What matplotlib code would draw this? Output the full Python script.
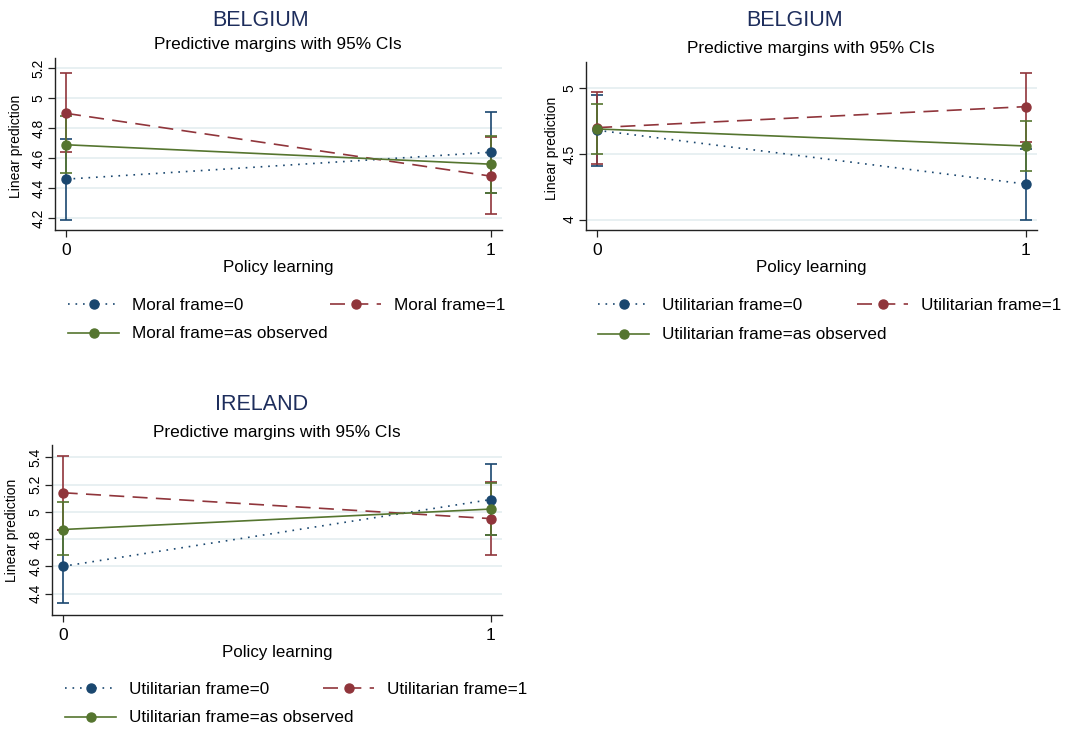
import matplotlib.pyplot as plt

plt.rcParams['font.family'] = ['Liberation Sans', 'DejaVu Sans']

x = [0, 1]

# panel 1: Belgium, moral frame
be_moral_0 = [4.46, 4.64]
be_moral_0_lo = [4.19, 4.37]
be_moral_0_hi = [4.73, 4.91]
be_moral_1 = [4.90, 4.48]
be_moral_1_lo = [4.64, 4.23]
be_moral_1_hi = [5.17, 4.74]
be_moral_obs = [4.69, 4.56]
be_moral_obs_lo = [4.50, 4.37]
be_moral_obs_hi = [4.88, 4.75]

# panel 2: Belgium, utilitarian frame
be_util_0 = [4.68, 4.27]
be_util_0_lo = [4.41, 4.00]
be_util_0_hi = [4.95, 4.54]
be_util_1 = [4.70, 4.86]
be_util_1_lo = [4.42, 4.59]
be_util_1_hi = [4.97, 5.12]
be_util_obs = [4.69, 4.56]
be_util_obs_lo = [4.50, 4.37]
be_util_obs_hi = [4.88, 4.75]

# panel 3: Ireland, utilitarian frame
ie_util_0 = [4.60, 5.09]
ie_util_0_lo = [4.33, 4.83]
ie_util_0_hi = [4.87, 5.35]
ie_util_1 = [5.14, 4.95]
ie_util_1_lo = [4.87, 4.68]
ie_util_1_hi = [5.41, 5.22]
ie_util_obs = [4.87, 5.02]
ie_util_obs_lo = [4.68, 4.83]
ie_util_obs_hi = [5.07, 5.21]

NAVY = '#1a476f'
MAROON = '#90353b'
GREEN = '#55752f'
TITLE = '#1d2d5c'
GRID = '#e4edf0'

W, H = 1080, 729
fig = plt.figure(figsize=(10.8, 7.29), dpi=100)


def fx(px):
    return px / W


def fy(py):
    return 1 - py / H


def panel(title, box, xlim, ylim, yticks, series, title_xy, sub_xy, xlab_xy, ylab_xy,
          legend_rows, legend_cols, labels):
    left, top, right, bottom = box
    ax = fig.add_axes([fx(left), fy(bottom), fx(right - left), (bottom - top) / H])
    ax.set_xlim(*xlim)
    ax.set_ylim(*ylim)
    ax.set_xticks([0, 1])
    ax.set_yticks(yticks)
    ax.set_yticklabels([('%g' % t) for t in yticks], rotation=90, va='center')
    ax.tick_params(axis='x', labelsize=12.5, length=5, width=0.9, pad=4, color='#222222')
    ax.tick_params(axis='y', labelsize=10, length=5, width=0.9, pad=2, color='#222222')
    for t in yticks:
        ax.axhline(t, color=GRID, lw=1.2, zorder=0)
    for s in ['top', 'right']:
        ax.spines[s].set_visible(False)
    for s in ['left', 'bottom']:
        ax.spines[s].set_linewidth(1.0)
        ax.spines[s].set_color('#222222')

    styles = [(NAVY, (0, (1, 3.5))), (MAROON, (0, (9, 5))), (GREEN, '-')]
    handles = []
    for (y, lo, hi), (col, ls) in zip(series, styles):
        err = [[v - l for v, l in zip(y, lo)], [h - v for v, h in zip(y, hi)]]
        ax.errorbar(x, y, yerr=err, fmt='none', ecolor=col, elinewidth=1.2,
                    capsize=4, capthick=1.2, zorder=3)
        h, = ax.plot(x, y, color=col, linestyle=ls, lw=1.2, marker='o',
                     markersize=6.5, markerfacecolor=col, markeredgecolor=col, zorder=4)
        handles.append(h)

    fig.text(fx(title_xy[0]), fy(title_xy[1]), title, ha='center', va='center',
             fontsize=15.5, color=TITLE)
    fig.text(fx(sub_xy[0]), fy(sub_xy[1]), 'Predictive margins with 95% CIs',
             ha='center', va='center', fontsize=12.4, color='black')
    fig.text(fx(xlab_xy[0]), fy(xlab_xy[1]), 'Policy learning', ha='center',
             va='center', fontsize=12.2)
    fig.text(fx(ylab_xy[0]), fy(ylab_xy[1]), 'Linear prediction', ha='center',
             va='center', fontsize=10, rotation=90)

    pos = [(legend_cols[0], legend_rows[0]), (legend_cols[1], legend_rows[0]),
           (legend_cols[0], legend_rows[1])]
    for h, lab, (lx, ly) in zip(handles, labels, pos):
        fig.legend([h], [lab], loc='center left', bbox_to_anchor=(fx(lx), fy(ly)),
                   frameon=False, fontsize=12.3, handlelength=3.0,
                   handletextpad=0.75, borderpad=0, borderaxespad=0)
    return ax


panel('BELGIUM', (55, 58, 502, 230), (-0.026, 1.026), (4.12, 5.27),
      [4.2, 4.4, 4.6, 4.8, 5, 5.2],
      [(be_moral_0, be_moral_0_lo, be_moral_0_hi),
       (be_moral_1, be_moral_1_lo, be_moral_1_hi),
       (be_moral_obs, be_moral_obs_lo, be_moral_obs_hi)],
      (261, 20), (278, 45), (278, 268), (16, 146),
      (305, 334), (68, 330),
      ['Moral frame=0', 'Moral frame=1', 'Moral frame=as observed'])

panel('BELGIUM', (586, 62, 1037, 230), (-0.026, 1.026), (3.92, 5.2), [4, 4.5, 5],
      [(be_util_0, be_util_0_lo, be_util_0_hi),
       (be_util_1, be_util_1_lo, be_util_1_hi),
       (be_util_obs, be_util_obs_lo, be_util_obs_hi)],
      (795, 21), (811, 48), (811, 268), (552, 148),
      (305, 335), (598, 857),
      ['Utilitarian frame=0', 'Utilitarian frame=1', 'Utilitarian frame=as observed'])

panel('IRELAND', (52, 445, 502, 615), (-0.025, 1.026), (4.243, 5.49),
      [4.4, 4.6, 4.8, 5, 5.2, 5.4],
      [(ie_util_0, ie_util_0_lo, ie_util_0_hi),
       (ie_util_1, ie_util_1_lo, ie_util_1_hi),
       (ie_util_obs, ie_util_obs_lo, ie_util_obs_hi)],
      (262, 405), (277, 432), (277, 653), (12, 530),
      (689, 718), (65, 323),
      ['Utilitarian frame=0', 'Utilitarian frame=1', 'Utilitarian frame=as observed'])

fig.savefig('out.png', dpi=100)
